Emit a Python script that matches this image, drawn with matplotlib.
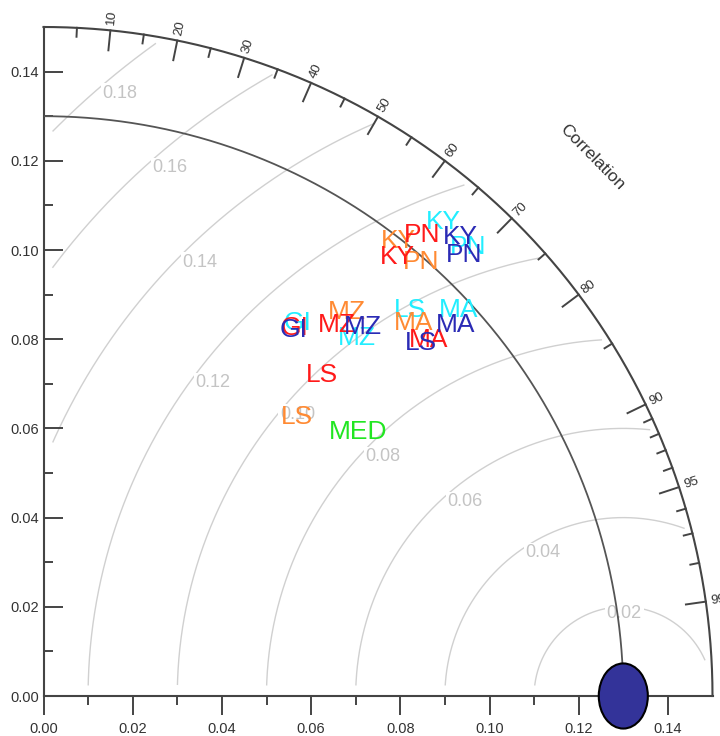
"""Taylor diagram: station std-dev / correlation against the reference (MED)."""

import matplotlib
matplotlib.use("Agg")
import matplotlib.pyplot as plt
import numpy as np
from matplotlib.patches import Ellipse

plt.rcParams["font.family"] = ["Liberation Sans", "DejaVu Sans"]

# ---- data --------------------------------------------------------------------
REF_STD = 0.13
SITES = ["KY", "PN", "MZ", "GI", "LS", "MA"]

# standard deviation and correlation per model run, in SITES order (None = not shown)
cyan_std = [0.1391, 0.1385, 0.1067, 0.1012, 0.1194, 0.1271]
cyan_cor = [0.645, 0.687, 0.659, 0.562, 0.688, 0.732]
orange_std = [0.1295, 0.1289, 0.1098, None, 0.0846, 0.1178]
orange_cor = [0.615, 0.656, 0.620, None, 0.673, 0.704]
red_std = [0.1264, 0.1338, 0.1061, 0.1000, 0.0953, 0.1176]
red_cor = [0.627, 0.635, 0.620, 0.564, 0.656, 0.734]
blue_std = [0.1390, 0.1366, 0.1095, 0.0994, 0.1158, 0.1243]
blue_cor = [0.673, 0.690, 0.655, 0.563, 0.730, 0.743]

med_std = 0.0921
med_cor = 0.767

rms_levels = [0.02, 0.04, 0.06, 0.08, 0.10, 0.12, 0.14, 0.16, 0.18]
cor_major = [0.1, 0.2, 0.3, 0.4, 0.5, 0.6, 0.7, 0.8, 0.9, 0.95, 0.99]
cor_minor = [0.05, 0.15, 0.25, 0.35, 0.45, 0.55, 0.65, 0.75, 0.85,
             0.91, 0.92, 0.93, 0.94, 0.96, 0.97, 0.98]

# ---- layout -------------------------------------------------------------------
RMAX = 0.15
# where the RMS contour labels sit (data coords)
rms_label_xy = [(0.1302, 0.0186), (0.1120, 0.0321), (0.0945, 0.0435),
                (0.0761, 0.0536), (0.0570, 0.0632), (0.0380, 0.0702),
                (0.0351, 0.0973), (0.0284, 0.1184), (0.0172, 0.1352)]

runs = [
    ("#22eeff", cyan_std, cyan_cor),
    ("#ff8a33", orange_std, orange_cor),
    ("#ff1a1a", red_std, red_cor),
    ("#2b2bb5", blue_std, blue_cor),
]


def to_xy(std, cor):
    ang = np.arccos(cor)
    return std * np.cos(ang), std * np.sin(ang)


fig = plt.figure(figsize=(7.2, 7.36), dpi=100)
ax = fig.add_axes([43.5 / 720, 40 / 736, 669 / 720, 669 / 736])
ax.set_xlim(0, RMAX)
ax.set_ylim(0, RMAX)
ax.patch.set_visible(False)

for side in ("top", "right"):
    ax.spines[side].set_visible(False)
for side in ("left", "bottom"):
    ax.spines[side].set_color("#444444")
    ax.spines[side].set_linewidth(1.5)

ticks = np.arange(0, 0.141, 0.02)
ax.set_xticks(ticks)
ax.set_yticks(ticks)
ax.set_xticks(np.arange(0.01, 0.14, 0.02), minor=True)
ax.set_yticks(np.arange(0.01, 0.14, 0.02), minor=True)
ax.set_xticklabels([f"{t:.2f}" for t in ticks])
ax.set_yticklabels([f"{t:.2f}" for t in ticks])
ax.tick_params(axis="x", which="both", direction="out", color="#444444",
               width=1.4, labelsize=10.5, labelcolor="#333333", pad=5)
ax.tick_params(axis="y", which="both", direction="in", color="#444444",
               width=1.4, labelsize=10.5, labelcolor="#333333", pad=3)
ax.tick_params(which="major", length=13.5)
ax.tick_params(which="minor", length=6.5)

# RMS difference arcs around the reference point
t = np.linspace(0, np.pi, 1200)
for r in rms_levels:
    x = REF_STD + r * np.cos(t)
    y = r * np.sin(t)
    bad = (x < 0.002) | (y < 0.0025) | (np.hypot(x, y) > 0.1485)
    ax.plot(np.where(bad, np.nan, x), np.where(bad, np.nan, y),
            color="#d0d0d0", lw=1.0, zorder=1)
for r, (lx, ly) in zip(rms_levels, rms_label_xy):
    ax.text(lx, ly, f"{r:.2f}", color="#c4c4c4", fontsize=13,
            ha="center", va="center", zorder=2,
            bbox=dict(boxstyle="square,pad=0.1", fc="white", ec="none"))

# reference std-dev arc and outer frame arc
a = np.linspace(0, np.pi / 2, 400)
ax.plot(REF_STD * np.cos(a), REF_STD * np.sin(a), color="#555555", lw=1.3, zorder=3)
ax.plot(RMAX * np.cos(a), RMAX * np.sin(a), color="#444444", lw=1.5,
        zorder=3, clip_on=False)

# correlation ticks and labels on the outer arc
for c in cor_major:
    th = np.arccos(c)
    ax.plot([RMAX * np.cos(th), (RMAX - 0.0045) * np.cos(th)],
            [RMAX * np.sin(th), (RMAX - 0.0045) * np.sin(th)],
            color="#444444", lw=1.4, clip_on=False, zorder=3)
    ax.text(0.1512 * np.cos(th), 0.1512 * np.sin(th), f"{c * 100:.0f}",
            rotation=np.degrees(th), rotation_mode="anchor",
            ha="left", va="center", fontsize=9.5, color="#333333", clip_on=False)
for c in cor_minor:
    th = np.arccos(c)
    ax.plot([RMAX * np.cos(th), (RMAX - 0.002) * np.cos(th)],
            [RMAX * np.sin(th), (RMAX - 0.002) * np.sin(th)],
            color="#444444", lw=1.4, clip_on=False, zorder=3)

th = np.radians(44.5)
ax.text(0.1725 * np.cos(th), 0.1725 * np.sin(th), "Correlation",
        rotation=-45.5, rotation_mode="anchor", ha="center", va="center",
        fontsize=12.5, color="#333333")

# model runs, drawn as site labels
for color, stds, cors in runs:
    for site, s, c in zip(SITES, stds, cors):
        if s is None:
            continue
        x, y = to_xy(s, c)
        ax.text(x, y, site, color=color, fontsize=19, ha="center",
                va="center", zorder=5)

x, y = to_xy(med_std, med_cor)
ax.text(x, y, "MED", color="#22e622", fontsize=19, ha="center", va="center", zorder=6)

# reference point
ax.add_patch(Ellipse((REF_STD, 0), 0.011, 0.0146, fc="#333399", ec="black",
                     lw=1.5, zorder=7, clip_on=False))

fig.savefig("out.png", dpi=100, facecolor="white")
